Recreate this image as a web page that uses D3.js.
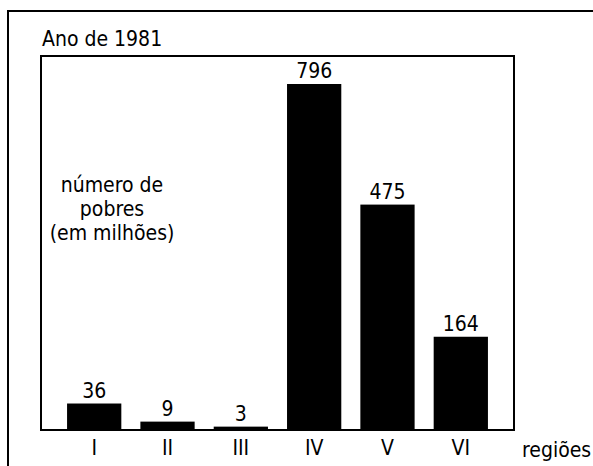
<!DOCTYPE html>
<html>
<head>
<meta charset="utf-8">
<script src="https://cdn.jsdelivr.net/npm/d3@7"></script>
<style>
  body { margin: 0; background: #fff; }
  text { font-family: "DejaVu Sans Condensed", "DejaVu Sans", sans-serif; fill: #000; }
</style>
</head>
<body>
<div id="chart"></div>
<script>
// dados (número de pobres, em milhões)
var regioes = ["I", "II", "III", "IV", "V", "VI"];
var pobres = [36, 9, 3, 796, 475, 164];
var titulo = "Ano de 1981";
var rotuloY = ["número de", "pobres", "(em milhões)"];
var rotuloX = "regiões";

var W = 593, H = 466;
var box = {left: 41, top: 56, right: 514, bottom: 430};
var fs = "21px";

var svg = d3.select("#chart")
    .append("svg")
    .attr("width", W)
    .attr("height", H);

// moldura externa
svg.append("rect")
    .attr("x", 8).attr("y", 11)
    .attr("width", 620).attr("height", 480)
    .attr("fill", "none").attr("stroke", "#000").attr("stroke-width", 2);

svg.append("text")
    .attr("x", 42).attr("y", 46)
    .style("font-size", fs)
    .text(titulo);

var x = d3.scaleBand()
    .domain(regioes)
    .range([48, 507])
    .padding(0.26);

// as barras do original não são proporcionais: escala de potência aproxima
var y = d3.scalePow()
    .exponent(0.83)
    .domain([0, d3.max(pobres)])
    .range([box.bottom, 84]);

var dados = regioes.map(function(r, i) { return {r: r, v: pobres[i]}; });

svg.selectAll(".bar")
    .data(dados)
    .enter().append("rect")
    .attr("class", "bar")
    .attr("x", d => x(d.r))
    .attr("y", d => y(d.v))
    .attr("width", x.bandwidth())
    .attr("height", d => box.bottom - y(d.v))
    .attr("fill", "#000");

svg.selectAll(".valor")
    .data(dados)
    .enter().append("text")
    .attr("class", "valor")
    .attr("x", d => x(d.r) + x.bandwidth() / 2)
    .attr("y", d => y(d.v) - 6)
    .attr("text-anchor", "middle")
    .style("font-size", fs)
    .text(d => d.v);

// caixa interna
svg.append("rect")
    .attr("x", box.left).attr("y", box.top)
    .attr("width", box.right - box.left).attr("height", box.bottom - box.top)
    .attr("fill", "none").attr("stroke", "#000").attr("stroke-width", 2);

var eixo = svg.append("g")
    .attr("transform", "translate(0," + box.bottom + ")")
    .call(d3.axisBottom(x).tickSize(0).tickPadding(10));
eixo.select(".domain").remove();
eixo.selectAll("text")
    .style("font-size", fs)
    .style("font-family", null);

svg.append("text")
    .attr("x", 522).attr("y", 457)
    .style("font-size", fs)
    .text(rotuloX);

svg.append("text")
    .attr("x", 112).attr("y", 192)
    .attr("text-anchor", "middle")
    .style("font-size", fs)
    .selectAll("tspan")
    .data(rotuloY)
    .enter().append("tspan")
    .attr("x", 112)
    .attr("dy", (d, i) => i === 0 ? 0 : 24)
    .text(d => d);
</script>
</body>
</html>
